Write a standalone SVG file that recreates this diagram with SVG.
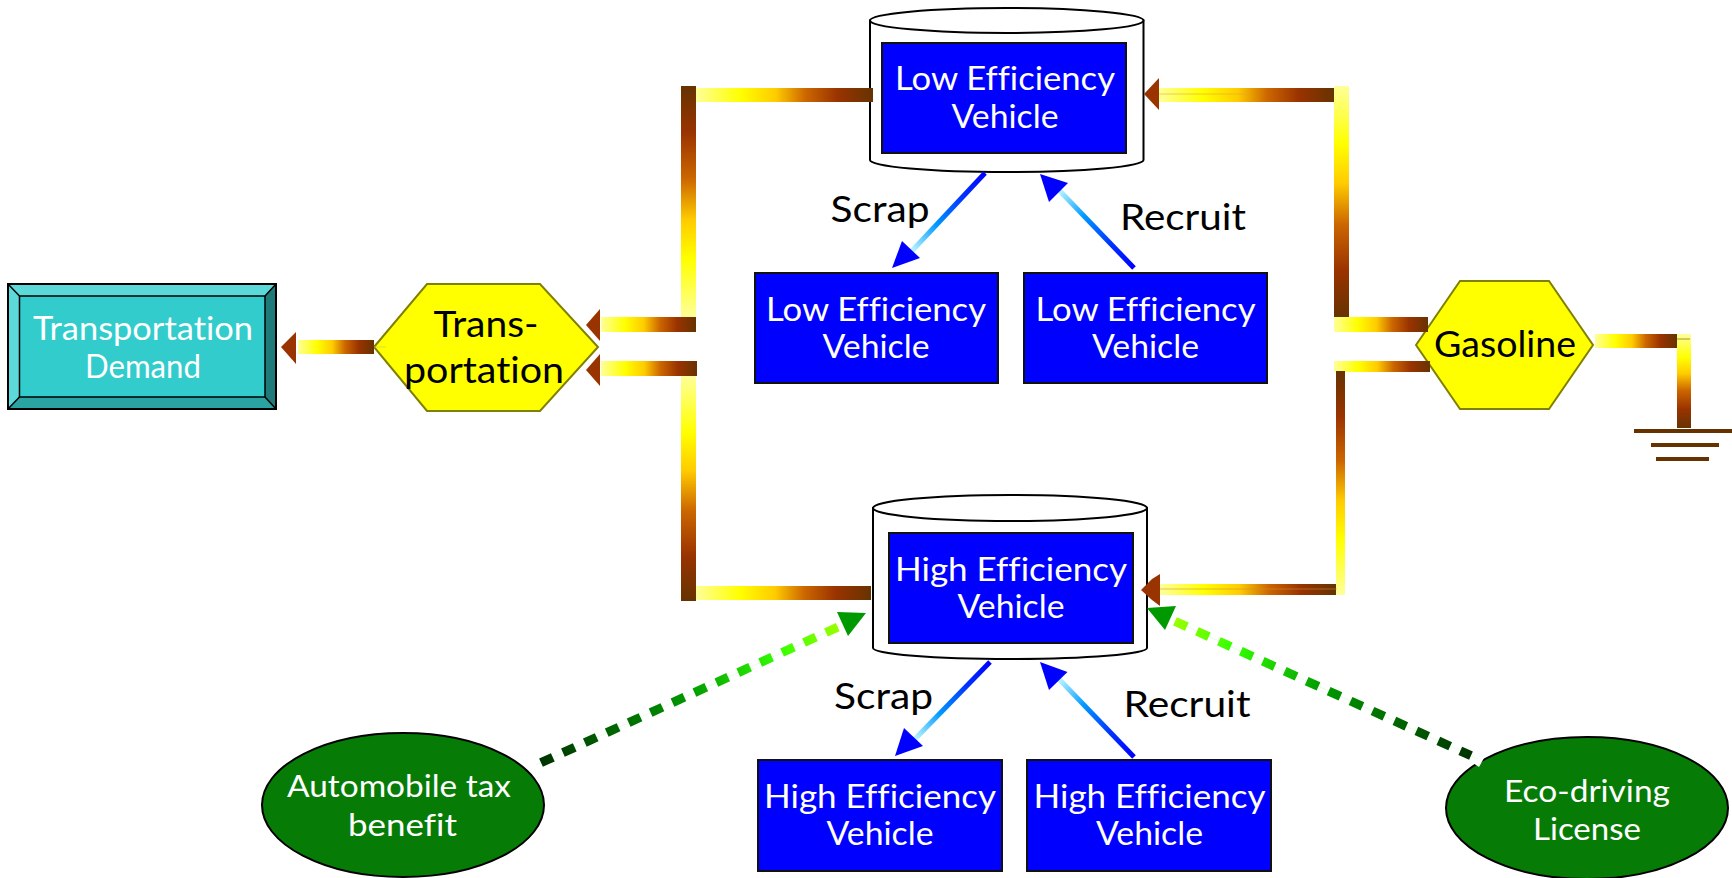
<svg xmlns="http://www.w3.org/2000/svg" width="1732" height="878" viewBox="0 0 1732 878">
<style>
text{font-family:"Lato","Open Sans","Noto Sans",sans-serif;text-anchor:middle;font-variant-ligatures:none}
.w{fill:#fff}.k{fill:#000}
.s32{font-size:33px}.s30{font-size:31px}.s36{font-size:37px}
.box{fill:#00f;stroke:#111;stroke-width:2}
.hex{fill:#ff0;stroke:#808000;stroke-width:2}
.cyl{fill:#fff;stroke:#000;stroke-width:2}
.oval{fill:#067c06;stroke:#000;stroke-width:2}
.h{fill:url(#gH)}.vu{fill:url(#gUp)}.vd{fill:url(#gDown)}
.head{fill:#993300}.bh{fill:#00f}.gh{fill:#009900}
.bs{stroke:url(#bS);stroke-width:5;fill:none}.br{stroke:url(#bR);stroke-width:5;fill:none}
.thin{stroke-width:1;fill:none;opacity:.55}
.dash{stroke-width:9;stroke-dasharray:13 11.1;fill:none}
.gnd{fill:#663300}
</style>
<defs>
<linearGradient id="gH"><stop offset="0" stop-color="#ffff99"/><stop offset=".25" stop-color="#ffff00"/><stop offset=".45" stop-color="#ffcc00"/><stop offset=".62" stop-color="#cc6600"/><stop offset=".8" stop-color="#993300"/><stop offset="1" stop-color="#663300"/></linearGradient>
<linearGradient id="gUp" x1="0" y1="0" x2="0" y2="1"><stop offset="0" stop-color="#663300"/><stop offset=".2" stop-color="#993300"/><stop offset=".4" stop-color="#cc6600"/><stop offset=".58" stop-color="#ffcc00"/><stop offset=".75" stop-color="#ffff00"/><stop offset="1" stop-color="#ffff99"/></linearGradient>
<linearGradient id="gDown" x1="0" y1="0" x2="0" y2="1"><stop offset="0" stop-color="#ffff99"/><stop offset=".25" stop-color="#ffff00"/><stop offset=".42" stop-color="#ffcc00"/><stop offset=".6" stop-color="#cc6600"/><stop offset=".8" stop-color="#993300"/><stop offset="1" stop-color="#663300"/></linearGradient>
<linearGradient id="bS" x1="1" y1="0" x2="0" y2="1"><stop offset="0" stop-color="#0000ff"/><stop offset=".3" stop-color="#0033ff"/><stop offset=".65" stop-color="#0099ff"/><stop offset="1" stop-color="#ccffff"/></linearGradient>
<linearGradient id="bR" x1="1" y1="1" x2="0" y2="0"><stop offset="0" stop-color="#0000ff"/><stop offset=".3" stop-color="#0033ff"/><stop offset=".65" stop-color="#0099ff"/><stop offset="1" stop-color="#ccffff"/></linearGradient>
<linearGradient id="gL" gradientUnits="userSpaceOnUse" x1="541" y1="762.7" x2="838" y2="627"><stop offset="0" stop-color="#003300"/><stop offset=".5" stop-color="#009900"/><stop offset=".8" stop-color="#33ff00"/><stop offset="1" stop-color="#99ff00"/></linearGradient>
<linearGradient id="gR" gradientUnits="userSpaceOnUse" x1="1471" y1="755.7" x2="1175" y2="621.3"><stop offset="0" stop-color="#003300"/><stop offset=".5" stop-color="#009900"/><stop offset=".8" stop-color="#33ff00"/><stop offset="1" stop-color="#99ff00"/></linearGradient>
</defs>
<rect width="1732" height="878" fill="#fff"/>

<g id="transportation-demand">
<rect x="8" y="284" width="268" height="125" fill="#33cccc"/>
<polygon points="8,284 276,284 265,296 19.5,296" fill="#5cd9d9"/>
<polygon points="8,284 19.5,296 19.5,397 8,409" fill="#5cd9d9"/>
<polygon points="276,284 276,409 265,397 265,296" fill="#1f7a7a"/>
<polygon points="8,409 19.5,397 265,397 276,409" fill="#2aa3a3"/>
<rect x="8" y="284" width="268" height="125" fill="none" stroke="#000" stroke-width="2"/>
<rect x="19.5" y="296" width="245.5" height="101" fill="none" stroke="#000" stroke-width="1.5"/>
<path d="M8,284 19.5,296M276,284 265,296M8,409 19.5,397M276,409 265,397" stroke="#000" stroke-width="1.5"/>
<text class="w s32" x="143" y="340" textLength="220" lengthAdjust="spacingAndGlyphs">Transportation</text>
<text class="w s32" x="143" y="378" textLength="116" lengthAdjust="spacingAndGlyphs">Demand</text>
</g>

<g id="transportation">
<polygon class="hex" points="374,347 427,284 540,284 598,347 540,411 427,411"/>
<text class="k s36" x="486" y="337" textLength="105" lengthAdjust="spacingAndGlyphs">Trans-</text>
<text class="k s36" x="484" y="383" textLength="160" lengthAdjust="spacingAndGlyphs">portation</text>
</g>

<g id="gasoline">
<polygon class="hex" points="1416,345 1460,281 1549,281 1593,345 1549,409 1460,409"/>
<text class="k s36" x="1505" y="357" textLength="142" lengthAdjust="spacingAndGlyphs">Gasoline</text>
</g>

<g id="low-stock">
<path class="cyl" d="M870,20.5V160A136.75,12 0 0 0 1143.5,160V20.5Z"/>
<ellipse class="cyl" cx="1006.75" cy="20.5" rx="136.75" ry="12.5"/>
<rect class="box" x="882" y="43" width="244" height="110"/>
<text class="w s32" x="1005" y="90" textLength="220" lengthAdjust="spacingAndGlyphs">Low Efficiency</text>
<text class="w s32" x="1005" y="128" textLength="107" lengthAdjust="spacingAndGlyphs">Vehicle</text>
</g>

<g id="high-stock">
<path class="cyl" d="M873,508V648A137,11 0 0 0 1147,648V508Z"/>
<ellipse class="cyl" cx="1010" cy="508" rx="137" ry="13"/>
<rect class="box" x="889" y="533" width="244" height="110"/>
<text class="w s32" x="1011" y="581" textLength="232" lengthAdjust="spacingAndGlyphs">High Efficiency</text>
<text class="w s32" x="1011" y="618" textLength="107" lengthAdjust="spacingAndGlyphs">Vehicle</text>
</g>

<g id="low-scrap">
<rect class="box" x="755" y="273" width="243" height="110"/>
<text class="w s32" x="876" y="321" textLength="220" lengthAdjust="spacingAndGlyphs">Low Efficiency</text>
<text class="w s32" x="876" y="358" textLength="107" lengthAdjust="spacingAndGlyphs">Vehicle</text>
</g>
<g id="low-recruit">
<rect class="box" x="1024" y="273" width="243" height="110"/>
<text class="w s32" x="1145.5" y="321" textLength="220" lengthAdjust="spacingAndGlyphs">Low Efficiency</text>
<text class="w s32" x="1145.5" y="358" textLength="107" lengthAdjust="spacingAndGlyphs">Vehicle</text>
</g>
<g id="high-scrap">
<rect class="box" x="758" y="760" width="244" height="111"/>
<text class="w s32" x="880" y="808" textLength="232" lengthAdjust="spacingAndGlyphs">High Efficiency</text>
<text class="w s32" x="880" y="845" textLength="107" lengthAdjust="spacingAndGlyphs">Vehicle</text>
</g>
<g id="high-recruit">
<rect class="box" x="1027" y="760" width="244" height="111"/>
<text class="w s32" x="1149.5" y="808" textLength="232" lengthAdjust="spacingAndGlyphs">High Efficiency</text>
<text class="w s32" x="1149.5" y="845" textLength="107" lengthAdjust="spacingAndGlyphs">Vehicle</text>
</g>

<g id="tax-benefit">
<ellipse class="oval" cx="403" cy="805" rx="141" ry="72"/>
<text class="w s30" x="399" y="797" textLength="224" lengthAdjust="spacingAndGlyphs">Automobile tax</text>
<text class="w s30" x="402.5" y="836" textLength="109" lengthAdjust="spacingAndGlyphs">benefit</text>
</g>
<g id="eco-license">
<ellipse class="oval" cx="1587" cy="808" rx="141" ry="71"/>
<text class="w s30" x="1587" y="802" textLength="166" lengthAdjust="spacingAndGlyphs">Eco-driving</text>
<text class="w s30" x="1587" y="840" textLength="108" lengthAdjust="spacingAndGlyphs">License</text>
</g>

<g id="labels">
<text class="k s36" x="880" y="222" textLength="99" lengthAdjust="spacingAndGlyphs">Scrap</text>
<text class="k s36" x="1183" y="230" textLength="126" lengthAdjust="spacingAndGlyphs">Recruit</text>
<text class="k s36" x="883.5" y="709" textLength="99" lengthAdjust="spacingAndGlyphs">Scrap</text>
<text class="k s36" x="1187" y="717" textLength="127" lengthAdjust="spacingAndGlyphs">Recruit</text>
</g>

<g id="connectors">
<rect class="h" x="298" y="340" width="76" height="14"/>
<path class="thin" stroke="#c8c070" d="M374,347H386"/>
<polygon class="head" points="281,347 296,332 296,364"/>
<rect class="h" x="601" y="317" width="95" height="15"/>
<polygon class="head" points="586,325 600,309 600,341"/>
<rect class="h" x="601" y="361" width="96" height="15"/>
<polygon class="head" points="586,370 600,354 600,386"/>
<rect class="vu" x="681" y="86" width="15" height="231"/>
<rect class="vd" x="681" y="376" width="15" height="225"/>
<rect class="h" x="696" y="88" width="177" height="14"/>
<rect class="h" x="696" y="586" width="175" height="14"/>

<rect class="h" x="1159" y="88" width="175" height="14"/>
<path class="thin" stroke="#e8a040" d="M1159,94H1248"/>
<polygon class="head" points="1144,94 1159,78 1159,110"/>
<rect class="vd" x="1334" y="86" width="15" height="231"/>
<rect class="h" x="1334" y="317" width="94" height="15"/>
<rect class="h" x="1334" y="361" width="96" height="11"/>
<rect class="vu" x="1336" y="371" width="9" height="224"/>
<rect class="h" x="1160" y="584" width="176" height="11"/>
<path class="thin" stroke="#c89040" d="M1156,589H1337"/>
<polygon class="head" points="1141,590 1152,579 1160,574 1160,606 1152,600"/>

<rect class="h" x="1595" y="334" width="82" height="14"/>
<rect class="vd" x="1677" y="334" width="14" height="94"/>
<path class="thin" stroke="#663300" d="M1677,339H1690"/>
<rect class="gnd" x="1634" y="429" width="98" height="4"/>
<rect class="gnd" x="1651" y="443" width="68" height="4"/>
<rect class="gnd" x="1656" y="457" width="53" height="4"/>

<line class="bs" x1="985" y1="173" x2="910" y2="253"/>
<polygon class="bh" points="892,268 902,241 920,258"/>
<line class="br" x1="1134" y1="268" x2="1057" y2="188"/>
<polygon class="bh" points="1040,174 1068,183 1049,202"/>
<line class="bs" x1="990" y1="662" x2="913" y2="741"/>
<polygon class="bh" points="895,756 904,728 923,746"/>
<line class="br" x1="1134" y1="757" x2="1057" y2="677"/>
<polygon class="bh" points="1040,662 1067.5,672 1049,690"/>

<path class="thin" stroke="#ccffcc" d="M536,765L838,627"/>
<line class="dash" stroke="url(#gL)" x1="541" y1="762.7" x2="838" y2="627"/>
<polygon class="gh" points="866,613 837,612 848,636"/>
<path class="thin" stroke="#ccffcc" d="M1175,621L1478,759"/>
<line class="dash" stroke="url(#gR)" x1="1175" y1="621.3" x2="1471" y2="755.7"/>
<polygon class="gh" points="1147,608 1176,606 1165,630"/>
<polygon points="1473,763 1481,757 1484,758 1479,767" fill="#fff"/>
</g>
</svg>
